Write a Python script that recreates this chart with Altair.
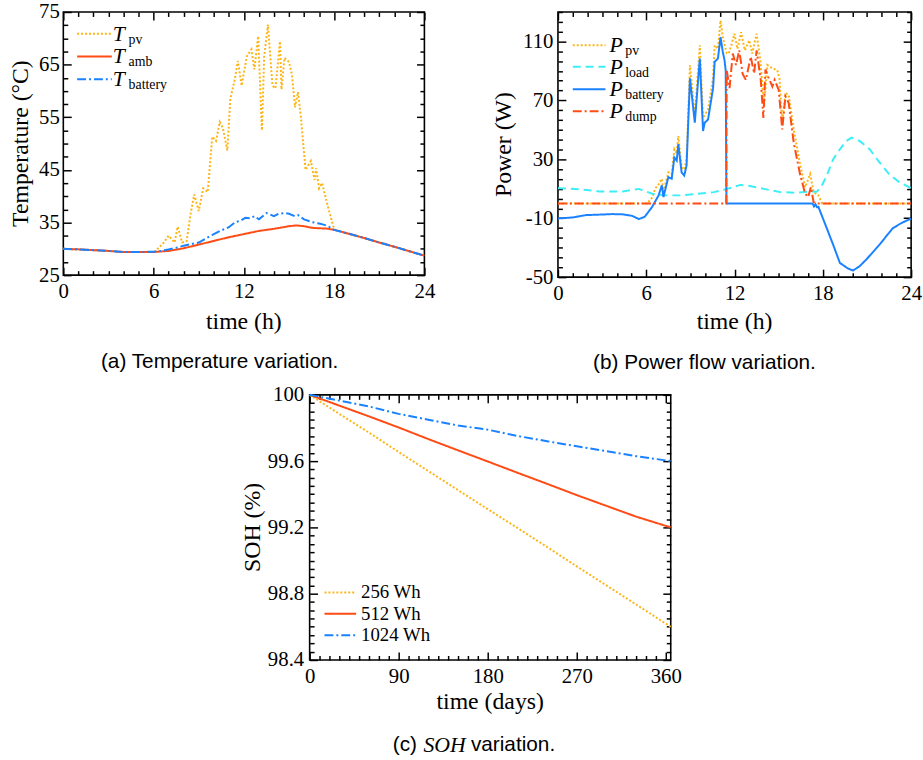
import altair as alt
import pandas as pd

# ---------------- (a) temperatures ----------------
amb_h = [0, 1, 2, 3, 4, 5, 6, 7, 8, 9, 10, 11, 12, 13, 14, 15, 15.5, 16, 16.5, 17, 17.5, 18, 19, 20, 21, 22, 23, 24]
amb_T = [30.0, 29.9, 29.75, 29.6, 29.4, 29.4, 29.4, 29.6, 30.1, 30.8, 31.5, 32.2, 32.8, 33.4, 33.8, 34.3, 34.45, 34.3,
         34.0, 33.9, 33.85, 33.6, 32.85, 32.05, 31.2, 30.4, 29.55, 28.7]

batT_h = [0, 1, 2, 3, 4, 5, 6, 6.5, 7, 7.5, 8, 8.5, 9, 9.5, 10, 10.5, 11, 11.4, 11.8, 12.1, 12.4, 12.7, 13.0, 13.5, 14.0,
          14.3, 14.7, 15.0, 15.4, 15.6, 16.0, 16.5, 17.0, 17.3, 17.6, 18, 19, 20, 21, 22, 23, 24]
batT_T = [30.0, 29.9, 29.75, 29.6, 29.4, 29.4, 29.45, 29.6, 29.9, 30.2, 30.6, 30.9, 31.2, 32.0, 32.8, 33.5, 34.1, 35.0,
          35.4, 35.9, 35.8, 36.2, 35.6, 36.8, 36.2, 36.65, 36.8, 36.65, 36.2, 36.4, 35.6, 35.1, 34.8, 34.6, 34.3, 33.6,
          32.85, 32.05, 31.2, 30.4, 29.55, 28.7]

pvT_h = [0, 1, 2, 3, 4, 5, 6, 6.05, 6.6, 7.0, 7.4, 7.6, 7.9, 8.2, 8.45, 8.7, 9.0, 9.3, 9.6, 9.9, 10.15, 10.4, 10.6, 10.9,
         11.1, 11.4, 11.6, 11.85, 12.2, 12.5, 12.7, 12.95, 13.2, 13.35, 13.6, 13.9, 14.1, 14.4, 14.5, 14.7, 15.0, 15.2,
         15.4, 15.6, 15.8, 16.1, 16.45, 16.7, 16.8, 17.0, 17.2, 17.55, 18.0, 19, 20, 21, 22, 23, 24]
pvT_T = [30.0, 29.9, 29.75, 29.6, 29.4, 29.4, 29.4, 29.4, 30.9, 32.5, 31.2, 34.2, 31.2, 31.5, 36.5, 40.3, 37.2, 41.5,
         40.8, 51.3, 50.5, 54.1, 53.0, 48.7, 58.5, 62.2, 65.7, 61.0, 66.6, 67.9, 64.1, 70.4, 52.5, 66.5, 72.6, 61.0,
         60.5, 69.4, 60.3, 66.3, 65.5, 63.0, 56.9, 59.8, 54.7, 45.0, 46.7, 43.1, 45.3, 41.5, 42.5, 38.4, 33.7, 32.85,
         32.05, 31.2, 30.4, 29.55, 28.7]

# ---------------- (b) powers ----------------
pvP_h = [0, 6.05, 6.4, 6.6, 6.84, 7.06, 7.17, 7.5, 7.73, 7.91, 8.07, 8.18, 8.4, 8.58, 8.74, 8.97, 9.3, 9.64, 9.86, 9.97,
         10.2, 10.54, 10.65, 10.87, 11.05, 11.2, 11.32, 11.47, 11.6, 11.8, 11.99, 12.2, 12.44, 12.7, 13.0, 13.2, 13.5,
         13.75, 14.0, 14.23, 14.57, 14.9, 15.05, 15.24, 15.46, 15.68, 16.02, 16.47, 16.8, 17.14, 17.37, 17.7, 17.95, 24]
pvP_P = [0, 0, 4, 10, 13, 16.7, 8, 21.2, 20, 36.8, 34, 45.8, 24.5, 23, 30, 94, 59.3, 107.4, 58.1, 60,
         63.7, 85, 107.4, 105, 124.3, 113, 108, 102, 101.8, 108, 115.2, 105, 116.3, 104, 110.8, 101.8, 115.2,
         97.3, 66, 94, 91.7, 90.6, 85, 54.8, 74.9, 73.8, 50.3, 25.7, 11.1, 20, 7.7, 5.5, 0, 0]

load_h = [0, 1.5, 2.8, 4.4, 5.5, 6.4, 7.3, 8.4, 9.5, 10.6, 11.5, 12.4, 12.9, 14.0, 15.1, 16.2, 17.1, 17.6, 17.9, 18.27,
          18.71, 19.16, 19.61, 19.95, 20.5, 21.18, 21.85, 22.5, 23.19, 24]
load_P = [10.4, 9.6, 8.2, 8.2, 9.9, 6.6, 5.5, 5.5, 6.6, 7.7, 9.9, 12.6, 12.1, 9.9, 7.7, 7.3, 8.2, 8.0, 11.5, 19.0,
          30.1, 36.8, 42.5, 44.7, 42.5, 36.8, 27.9, 20.0, 14.5, 10.4]

batP_h = [0, 1, 1.9, 3, 3.7, 4.4, 5.04, 5.5, 5.9, 6.4, 6.84, 7.06, 7.17, 7.5, 7.73, 7.91, 8.07, 8.18, 8.4, 8.58,
          8.74, 8.97, 9.3, 9.64, 9.86, 9.97, 10.2, 10.54, 10.65, 10.87, 11.05, 11.2, 11.32, 11.4, 11.45, 17.3, 17.4,
          17.5, 17.6, 17.7, 18.27, 18.7, 19.16, 19.72, 20.05, 20.5, 20.95, 21.85, 22.74, 23.3, 24]
batP_P = [-10.2, -9.5, -7.9, -7.5, -7.2, -7.4, -8.4, -10.6, -9.0, -2.3, 5.5, 12.3, 4.4, 17.9, 16.8, 31.3, 29.1, 40.3,
          21.2, 19.0, 25.7, 85.0, 54.8, 98.4, 49.2, 54.8, 57.0, 78.3, 96.2, 98.4, 112.9, 102.9, 97.3, 90, 0, 0, -2.0,
          -0.5, -2.5, -2.3, -16.9, -28, -40.4, -44.2, -45.5, -42.6, -38.1, -28.0, -16.9, -13.5, -10.2]

dump_h = [0, 11.44, 11.47, 11.66, 11.88, 12.1, 12.32, 12.55, 12.77, 12.9, 13.1, 13.33, 13.5, 13.78, 13.96, 14.1,
          14.23, 14.57, 14.72, 15.0, 15.24, 15.46, 15.68, 16.02, 16.47, 16.8, 17.0, 17.19, 17.37, 17.59, 24]
dump_P = [0, 0, 90.6, 78.3, 101.8, 94, 104, 88, 83.9, 90, 99.6, 88.3, 104, 83.9, 58.1, 91, 87.2, 79.4, 83.9, 77.2,
          50.3, 72.7, 68.2, 41.3, 19, 6.6, 4.4, 11.1, 1, 0, 0]

# ---------------- (c) state of health ----------------
days = [0, 30, 60, 90, 120, 150, 180, 210, 240, 270, 300, 330, 365]
soh_256 = [100, 99.885, 99.772, 99.655, 99.54, 99.425, 99.31, 99.197, 99.082, 98.965, 98.85, 98.735, 98.6]
soh_512 = [100, 99.935, 99.87, 99.803, 99.733, 99.665, 99.598, 99.53, 99.463, 99.395, 99.33, 99.265, 99.2]
soh_1024 = [100, 99.965, 99.93, 99.885, 99.85, 99.815, 99.79, 99.752, 99.72, 99.69, 99.66, 99.63, 99.6]

# tick lists
h_major = [0, 6, 12, 18, 24]
h_minor = [h for h in range(25) if h % 6]
Ta_major = [25, 35, 45, 55, 65, 75]
Ta_minor = [25 + 2.5 * k for k in range(21) if k % 4]
Pb_major = [-50, -10, 30, 70, 110]
Pb_minor = [-50 + 20 * k / 3 for k in range(28) if k % 6]
d_major = [0, 90, 180, 270, 360]
d_minor = [d for d in range(0, 365, 10) if d % 90]
S_major = [98.4, 98.8, 99.2, 99.6, 100]
S_minor = [98.4 + 0.05 * k for k in range(33) if k % 8]

SERIF = "Liberation Serif"
SANS = "Liberation Sans"
YEL = "#FDB515"
RED = "#FF4B14"
BLUE = "#1A82FF"
CYAN = "#3DEEF7"
DOT = [2, 2]
DASH = [8, 5]
DASHDOT = [9, 3, 2, 3]
SOLID = [1, 0]
MAJ = 8
MIN = 4.5

ONE = pd.DataFrame({"a": [0]})


def lab_axis(values, orient, lpad):
    # major ticks pointing inward (axis pushed inside by its tick length), with labels
    return alt.Axis(values=values, orient=orient, title=None, tickSize=MAJ, offset=-MAJ, tickWidth=1.5,
                    tickColor="black", domain=False, grid=False, labelPadding=lpad,
                    labelFont=SERIF, labelFontSize=21, labelColor="black",
                    labelExpr="toString(datum.value)", labelFlush=False, labelOverlap=False)


def tick_axis(values, orient, size):
    return alt.Axis(values=values, orient=orient, title=None, tickSize=size, offset=-size, tickWidth=1.5,
                    tickColor="black", domain=False, grid=False, labels=False)


def series(xv, yv, xs, ys, xax, yax, color, dash, width=2):
    df = pd.DataFrame({"x": xv, "y": yv})
    return alt.Chart(df).mark_line(color=color, strokeDash=dash, strokeWidth=width, strokeCap="butt").encode(
        x=alt.X("x:Q", scale=xs, axis=xax), y=alt.Y("y:Q", scale=ys, axis=yax))


def ghost(xv, yv, xs, ys, xax, yax):
    df = pd.DataFrame({"x": xv, "y": yv})
    return alt.Chart(df).mark_line(opacity=0).encode(
        x=alt.X("x:Q", scale=xs, axis=xax), y=alt.Y("y:Q", scale=ys, axis=yax))


def leg_line(x1, x2, y, color, dash, width=2):
    return alt.Chart(ONE).mark_rule(color=color, strokeDash=dash, strokeWidth=width, strokeCap="butt").encode(
        x=alt.value(x1), x2=alt.value(x2), y=alt.value(y))


def txt(x, y, s, size, font=SERIF, style="normal", align="left", baseline="middle", angle=0):
    return alt.Chart(ONE).mark_text(font=font, fontSize=size, fontStyle=style, fontWeight=400, align=align,
                                    baseline=baseline, angle=angle, color="black").encode(
        x=alt.value(x), y=alt.value(y), text=alt.value(s))


def sym_entry(x, y, main, sub):
    return [txt(x, y, main, 22, style="italic"), txt(x + 16, y + 6, sub, 14)]


def titles(W, H, xt, yt, ydx, xdy):
    return [txt(W / 2, H + xdy, xt, 24, align="center"),
            txt(ydx, H / 2, yt, 24, align="center", angle=270)]


def panel(specs, xs, ys, xmaj, xmin, ymaj, ymin, xlpad, ylpad, extras, W, H):
    xax = lab_axis(xmaj, "bottom", xlpad)
    yax = lab_axis(ymaj, "left", ylpad)
    lines = alt.layer(*[series(xv, yv, xs, ys, xax, yax, c, d) for xv, yv, c, d in specs])
    gx, gy = specs[0][0], specs[0][1]
    g1 = ghost(gx, gy, xs, ys, tick_axis(xmin, "bottom", MIN), tick_axis(ymin, "left", MIN))
    g2 = ghost(gx, gy, xs, ys, tick_axis(xmaj, "top", MAJ), tick_axis(ymaj, "right", MAJ))
    g3 = ghost(gx, gy, xs, ys, tick_axis(xmin, "top", MIN), tick_axis(ymin, "right", MIN))
    return alt.layer(lines, g1, g2, g3, *extras).resolve_axis(
        x="independent", y="independent").properties(width=W, height=H)


# ---------- panel (a) ----------
Wa, Ha = 365, 266
xa = alt.Scale(domain=[0, 24], nice=False, zero=False)
ya = alt.Scale(domain=[25, 75], nice=False, zero=False)
panel_a = panel(
    [(pvT_h, pvT_T, YEL, DOT), (amb_h, amb_T, RED, SOLID), (batT_h, batT_T, BLUE, DASHDOT)],
    xa, ya, h_major, h_minor, Ta_major, Ta_minor, 6, 4,
    [leg_line(14, 49, 22, YEL, DOT), leg_line(14, 49, 45, RED, SOLID), leg_line(14, 49, 68, BLUE, DASHDOT)]
    + sym_entry(50, 22, "T", "pv") + sym_entry(50, 45, "T", "amb") + sym_entry(50, 68, "T", "battery")
    + titles(Wa, Ha, "time (h)", "Temperature (°C)", -43, 47)
    + [txt(158, 354, "(a) Temperature variation.", 21, font=SANS, align="center")],
    Wa, Ha)

# ---------- panel (b) ----------
Wb, Hb = 357, 268
xb = alt.Scale(domain=[0, 24], nice=False, zero=False)
yb = alt.Scale(domain=[-50, 130], nice=False, zero=False)
panel_b = panel(
    [(pvP_h, pvP_P, YEL, DOT), (load_h, load_P, CYAN, DASH), (batP_h, batP_P, BLUE, SOLID),
     (dump_h, dump_P, RED, DASHDOT)],
    xb, yb, h_major, h_minor, Pb_major, Pb_minor, 6, 5,
    [leg_line(15, 48, 33.7, YEL, DOT), leg_line(15, 48, 55.3, CYAN, DASH),
     leg_line(15, 48, 78, BLUE, SOLID), leg_line(15, 48, 100.3, RED, DASHDOT)]
    + sym_entry(52, 33.7, "P", "pv") + sym_entry(52, 55.3, "P", "load") + sym_entry(52, 78, "P", "battery")
    + sym_entry(52, 100.3, "P", "dump") + titles(Wb, Hb, "time (h)", "Power (W)", -54, 45)
    + [txt(148, 355, "(b) Power flow variation.", 21, font=SANS, align="center")],
    Wb, Hb)

# ---------- panel (c) ----------
Wc, Hc = 365, 268
xc = alt.Scale(domain=[0, 365], nice=False, zero=False)
yc = alt.Scale(domain=[98.4, 100], nice=False, zero=False)
panel_c = panel(
    [(days, soh_256, YEL, DOT), (days, soh_512, RED, SOLID), (days, soh_1024, BLUE, DASHDOT)],
    xc, yc, d_major, d_minor, S_major, S_minor, 6, 6,
    [leg_line(15, 47, 199.7, YEL, DOT), leg_line(15, 47, 221.3, RED, SOLID), leg_line(15, 47, 243, BLUE, DASHDOT),
     txt(52, 199.7, "256 Wh", 19), txt(52, 221.3, "512 Wh", 19), txt(52, 243, "1024 Wh", 19)]
    + titles(Wc, Hc, "time (days)", "SOH (%)", -57, 43)
    + [txt(84, 354, "(c)", 21, font=SANS),
       txt(115, 354, "SOH", 22, font=SERIF, style="italic"),
       txt(163, 354, "variation.", 21, font=SANS)],
    Wc, Hc)

spacer = alt.Chart(ONE).mark_point(opacity=0).encode(
    x=alt.X("a:Q", axis=None), y=alt.Y("a:Q", axis=None)
).properties(width=179, height=10, view=alt.ViewBackground(strokeOpacity=0))

top = alt.hconcat(panel_a, panel_b, spacing=56)
bottom = alt.hconcat(spacer, panel_c, spacing=0)
chart = alt.vconcat(top, bottom, spacing=9).properties(
    padding={"left": 8, "top": -4, "right": 0, "bottom": 0}, background="white"
).configure_view(stroke="black", strokeWidth=1.6)

chart.save("out.html", embed_options={"renderer": "svg", "actions": False})
